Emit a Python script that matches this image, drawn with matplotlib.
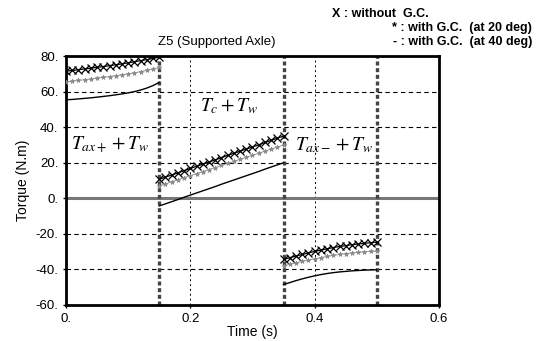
import matplotlib
matplotlib.use("Agg")
import matplotlib.pyplot as plt

plt.rcParams['font.family'] = ['Liberation Sans', 'DejaVu Sans']
plt.rcParams['mathtext.fontset'] = 'stix'

# segment 1 : 0 ~ 0.15 s
t1 = [0.00, 0.01, 0.02, 0.03, 0.04, 0.05, 0.06, 0.07, 0.08, 0.09, 0.10, 0.11, 0.12, 0.13, 0.14, 0.15]
no_gc1 = [71.5, 71.9, 72.3, 72.8, 73.2, 73.7, 74.1, 74.6, 75.1, 75.6, 76.2, 76.8, 77.4, 78.0, 78.7, 79.4]
gc20_1 = [65.5, 65.9, 66.3, 66.7, 67.1, 67.6, 68.0, 68.5, 69.0, 69.5, 70.0, 70.6, 71.2, 71.9, 72.7, 73.6]
gc40_1 = [55.4, 55.6, 55.9, 56.2, 56.5, 56.9, 57.3, 57.7, 58.2, 58.7, 59.3, 60.0, 60.9, 62.0, 63.4, 65.2]

# segment 2 : 0.15 ~ 0.35 s
t2 = [0.15, 0.16, 0.17, 0.18, 0.19, 0.20, 0.21, 0.22, 0.23, 0.24, 0.25,
      0.26, 0.27, 0.28, 0.29, 0.30, 0.31, 0.32, 0.33, 0.34, 0.35]
no_gc2 = [10.7, 11.9, 13.1, 14.3, 15.6, 16.8, 18.0, 19.2, 20.4, 21.6, 22.9,
          24.1, 25.3, 26.5, 27.7, 28.9, 30.1, 31.4, 32.6, 33.8, 35.0]
gc20_2 = [7.0, 8.1, 9.3, 10.4, 11.6, 12.7, 13.9, 15.0, 16.2, 17.3, 18.5,
          19.6, 20.8, 21.9, 23.1, 24.2, 25.4, 26.5, 27.7, 28.8, 30.0]
gc40_2 = [-4.3, -3.1, -1.9, -0.7, 0.6, 1.8, 3.0, 4.2, 5.4, 6.6, 7.9,
          9.1, 10.3, 11.5, 12.7, 13.9, 15.1, 16.4, 17.6, 18.8, 20.0]

# segment 3 : 0.35 ~ 0.5 s
t3 = [0.35, 0.36, 0.37, 0.38, 0.39, 0.40, 0.41, 0.42, 0.43, 0.44, 0.45, 0.46, 0.47, 0.48, 0.49, 0.50]
no_gc3 = [-34.4, -33.4, -32.5, -31.6, -30.7, -29.9, -29.1, -28.4, -27.7, -27.1, -26.6, -26.1, -25.7, -25.3, -25.0, -24.6]
gc20_3 = [-38.0, -37.1, -36.3, -35.5, -34.7, -34.0, -33.3, -32.7, -32.1, -31.6, -31.1, -30.7, -30.4, -30.1, -29.9, -29.7]
gc40_3 = [-48.5, -47.4, -46.3, -45.3, -44.4, -43.6, -42.9, -42.3, -41.8, -41.4, -41.1, -40.8, -40.6, -40.4, -40.3, -40.2]

phase_t = [0.15, 0.35, 0.5]
yticks = [-60, -40, -20, 0, 20, 40, 60, 80]
ytick_labels = ["-60.", "-40.", "-20.", "0.", "20.", "40.", "60.", "80."]
xticks = [0, 0.2, 0.4, 0.6]
xtick_labels = ["0.", "0.2", "0.4", "0.6"]

fig = plt.figure(figsize=(5.44, 3.41), dpi=100)
ax = fig.add_axes([0.1213, 0.1056, 0.6857, 0.730])

# grid
for y in [-40, -20, 20, 40, 60]:
    ax.axhline(y, color="black", lw=0.8, ls=(0, (4, 3)), zorder=1)
for x in [0.2, 0.4]:
    ax.axvline(x, color="black", lw=0.7, ls=(0, (2, 3)), zorder=1)
ax.axhline(0, color="#777777", lw=2.2, zorder=1)
for x in phase_t:
    ax.axvline(x, color="#444444", lw=2.4, ls=(0, (1.2, 0.8)), zorder=1)

for t, a, b, c in [(t1, no_gc1, gc20_1, gc40_1), (t2, no_gc2, gc20_2, gc40_2), (t3, no_gc3, gc20_3, gc40_3)]:
    ax.plot(t, a, color="black", lw=0.9, marker="x", ms=6, mew=0.9, zorder=4)
    ax.plot(t, b, color="#888888", lw=0.6, marker="*", ms=3.5, mew=0.5, zorder=3)
    ax.plot(t, c, color="black", lw=1.0, zorder=3)

ax.text(0.072, 30, r"$T_{ax+}+T_w$", fontsize=14, ha="center", va="center")
ax.text(0.262, 52, r"$T_c+T_w$", fontsize=14, ha="center", va="center")
ax.text(0.432, 30, r"$T_{ax-}+T_w$", fontsize=14, ha="center", va="center")

ax.set_xlim(0, 0.6)
ax.set_ylim(-60, 80)
ax.set_xticks(xticks)
ax.set_xticklabels(xtick_labels, fontsize=9.5)
ax.set_yticks(yticks)
ax.set_yticklabels(ytick_labels, fontsize=9.5)
ax.tick_params(length=2, width=1)
for s in ax.spines.values():
    s.set_linewidth(2)
ax.set_xlabel("Time (s)", fontsize=10, labelpad=0)
ax.set_ylabel("Torque (N.m)", fontsize=10)

fig.text(332 / 544, 1 - 14 / 341, "X : without  G.C.", fontsize=9, weight="bold", ha="left", va="center")
fig.text(532 / 544, 1 - 28 / 341, "* : with G.C.  (at 20 deg)", fontsize=9, weight="bold", ha="right", va="center")
fig.text(532 / 544, 1 - 42 / 341, "- : with G.C.  (at 40 deg)", fontsize=9, weight="bold", ha="right", va="center")
fig.text(158 / 544, 1 - 42 / 341, "Z5 (Supported Axle)", fontsize=9.5, ha="left", va="center")

fig.savefig("out.png", dpi=100)
